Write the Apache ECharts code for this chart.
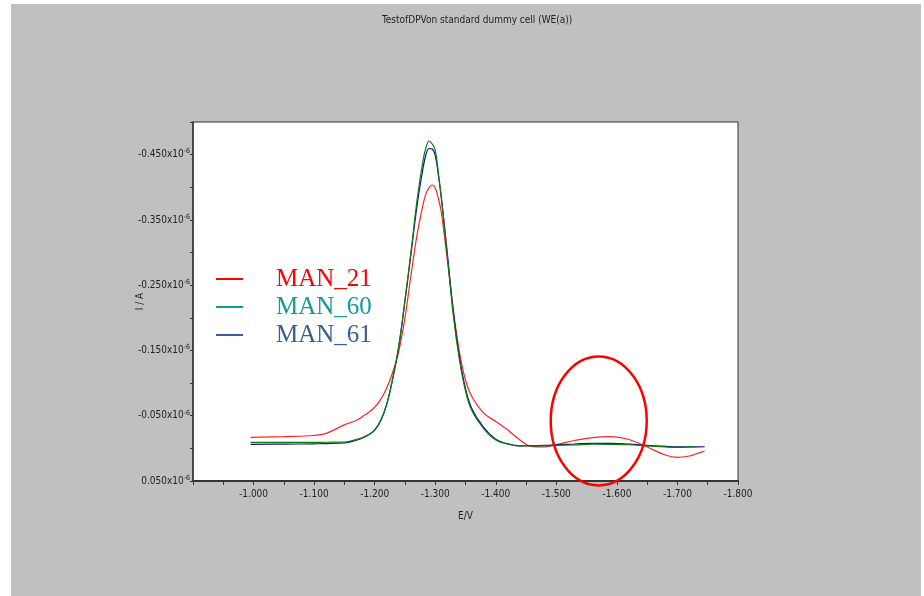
<!DOCTYPE html>
<html>
<head>
<meta charset="utf-8">
<title>Test of DPV</title>
<script src="https://cdn.jsdelivr.net/npm/echarts@6/dist/echarts.min.js"></script>
<style>
html, body { margin: 0; padding: 0; background: #fff; }
#chart {
    width: 924px;
    height: 596px;
    background: linear-gradient(#c0c0c0, #c0c0c0) 11px 4px / 910px 592px no-repeat, #fff;
}
</style>
</head>
<body>
<div id="chart"></div>
<script>
// potential E / V
const potential = [-0.995, -1.05, -1.10, -1.12, -1.15, -1.17, -1.18, -1.19, -1.20, -1.21,
    -1.22, -1.23, -1.24, -1.25, -1.26, -1.27, -1.28, -1.285, -1.29, -1.295,
    -1.30, -1.305, -1.31, -1.32, -1.33, -1.34, -1.35, -1.36, -1.38, -1.40,
    -1.42, -1.44, -1.46, -1.48, -1.50, -1.53, -1.56, -1.59, -1.62, -1.65,
    -1.68, -1.70, -1.72, -1.73, -1.745]

// current I / A, in units of 1e-6
const man21 = [-0.0169, -0.018, -0.0197, -0.023, -0.036, -0.043, -0.049, -0.055, -0.063, -0.075,
    -0.093, -0.117, -0.1495, -0.1997, -0.2656, -0.327, -0.374, -0.391, -0.3995, -0.4035,
    -0.399, -0.3836, -0.3621, -0.2886, -0.212, -0.1476, -0.1047, -0.0802, -0.054, -0.0411,
    -0.0281, -0.0128, -0.0028, -0.0021, -0.0059, -0.012, -0.0166, -0.0179, -0.0136, -0.0021,
    0.0102, 0.0137, 0.0117, 0.0087, 0.0041]
const man60 = [-0.0093, -0.0093, -0.0093, -0.0094, -0.0097, -0.0139, -0.0166, -0.0212, -0.0281, -0.0427,
    -0.068, -0.1078, -0.158, -0.2273, -0.301, -0.3805, -0.4418, -0.4617, -0.4709, -0.4663,
    -0.457, -0.4234, -0.385, -0.2947, -0.2028, -0.1354, -0.0878, -0.0588, -0.0304, -0.0128,
    -0.0067, -0.0036, -0.0038, -0.0039, -0.0045, -0.0053, -0.0064, -0.0062, -0.0055, -0.0036,
    -0.0022, -0.0016, -0.0022, -0.0025, null]
const man61 = [-0.0062, -0.0065, -0.007, -0.0073, -0.0082, -0.0125, -0.0158, -0.0207, -0.0278, -0.0425,
    -0.0678, -0.1075, -0.157, -0.225, -0.298, -0.372, -0.43, -0.451, -0.4594, -0.4585,
    -0.4485, -0.42, -0.385, -0.299, -0.208, -0.14, -0.092, -0.062, -0.032, -0.0138,
    -0.0068, -0.0038, -0.0042, -0.0046, -0.0055, -0.0066, -0.0077, -0.0076, -0.0066, -0.0045,
    -0.003, -0.0022, -0.0022, -0.0023, -0.0025]

const seriesNames = ['MAN_21', 'MAN_60', 'MAN_61']
const lineColors = ['#ff2424', '#0c7d0c', '#12128c']
const legendColors = ['#ff0000', '#119b9b', '#3b5d98']
const legendTops = [266, 294, 322]

// marked region (E, I)
const markCenter = [-1.570, -0.042]

const narrow = "'Liberation Sans Narrow', 'DejaVu Sans Condensed', sans-serif"

const pairs = (ys) => potential.map((e, i) => [e, ys[i]])

const chart = echarts.init(document.getElementById('chart'))

const option = {
    backgroundColor: 'transparent',
    animation: false,
    title: {
        text: 'TestofDPVon standard dummy cell (WE(a))',
        left: 377,
        top: 10,
        textStyle: { fontFamily: narrow, fontSize: 10, fontWeight: 'normal', color: '#222' }
    },
    legend: seriesNames.map((name, i) => ({
        left: 216,
        top: legendTops[i],
        padding: 0,
        selectedMode: false,
        icon: 'rect',
        itemWidth: 27,
        itemHeight: 2,
        data: [{
            name: name,
            itemStyle: { color: legendColors[i] },
            textStyle: { color: legendColors[i] }
        }],
        textStyle: {
            fontFamily: "'Liberation Serif', 'Times New Roman', serif",
            fontSize: 25,
            lineHeight: 26,
            padding: [0, 0, 0, 28]
        }
    })),
    grid: {
        left: 193,
        top: 122,
        width: 545,
        height: 359,
        show: true,
        backgroundColor: '#fff',
        borderColor: '#333',
        borderWidth: 1
    },
    xAxis: {
        type: 'value',
        inverse: true,
        min: -1.8,
        max: -0.9,
        interval: 0.05,
        name: 'E/V',
        nameLocation: 'middle',
        nameGap: 30,
        nameTextStyle: { fontFamily: narrow, fontSize: 10, color: '#222' },
        axisLine: { onZero: false, lineStyle: { color: '#333', width: 2 } },
        axisTick: { length: 4, lineStyle: { color: '#333' } },
        splitLine: { show: false },
        axisLabel: {
            margin: 8,
            fontFamily: narrow,
            fontSize: 10,
            color: '#222',
            formatter: (v) => {
                const k = Math.round(v * 100)
                return (k % 10 === 0 && k <= -100) ? v.toFixed(3) : ''
            }
        }
    },
    yAxis: {
        type: 'value',
        inverse: true,
        min: -0.5,
        max: 0.05,
        interval: 0.05,
        name: 'I / A',
        nameLocation: 'middle',
        nameGap: 48,
        nameMoveOverlap: false,
        nameTextStyle: { fontFamily: narrow, fontSize: 10, color: '#222' },
        axisLine: { show: true, onZero: false, lineStyle: { color: '#333', width: 1.5 } },
        axisTick: { show: true, length: 3, lineStyle: { color: '#333' } },
        splitLine: { show: false },
        axisLabel: {
            margin: 3,
            color: '#222',
            formatter: (v) => {
                const k = Math.round(v * 100)
                if (Math.abs(k / 5) % 2 !== 1) return ''
                return '{a|' + v.toFixed(3) + 'x10}{b|-6}'
            },
            rich: {
                a: { fontFamily: narrow, fontSize: 10, color: '#222' },
                b: { fontFamily: narrow, fontSize: 7, color: '#222', padding: [0, 0, 6, 0] }
            }
        }
    },
    series: [
        { name: 'MAN_21', type: 'line', data: pairs(man21), color: lineColors[0] },
        { name: 'MAN_61', type: 'line', data: pairs(man61), color: lineColors[2] },
        { name: 'MAN_60', type: 'line', data: pairs(man60), color: lineColors[1] }
    ].map((s) => Object.assign(s, {
        showSymbol: false,
        smooth: 0.4,
        lineStyle: { width: 1.2 }
    }))
}

chart.setOption(option)

// red ellipse around the -1.57 V region
const c = chart.convertToPixel({ gridIndex: 0 }, markCenter)
chart.setOption({
    graphic: [{
        type: 'ellipse',
        silent: true,
        z: 100,
        shape: { cx: c[0], cy: c[1], rx: 48, ry: 64.5 },
        style: { fill: 'none', stroke: '#ff0000', lineWidth: 2.5 }
    }]
})
</script>
</body>
</html>
